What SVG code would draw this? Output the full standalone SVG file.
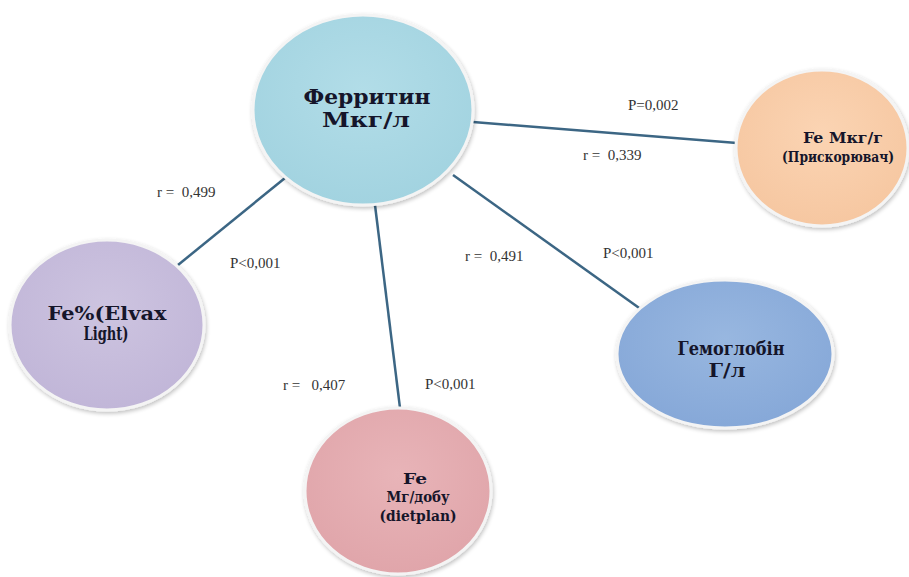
<svg xmlns="http://www.w3.org/2000/svg" width="909" height="577" viewBox="0 0 909 577">
<defs>
<filter id="sh" x="-10%" y="-10%" width="125%" height="125%">
<feGaussianBlur in="SourceAlpha" stdDeviation="2"/>
<feOffset dx="1" dy="2" result="b"/>
<feComponentTransfer><feFuncA type="linear" slope="0.25"/></feComponentTransfer>
<feMerge><feMergeNode/><feMergeNode in="SourceGraphic"/></feMerge>
</filter>
<radialGradient id="gBlue" cx="50%" cy="40%" r="60%"><stop offset="0" stop-color="#b2dde8"/><stop offset="1" stop-color="#a2d3e0"/></radialGradient>
<radialGradient id="gPeach" cx="50%" cy="40%" r="60%"><stop offset="0" stop-color="#fbd4b3"/><stop offset="1" stop-color="#f6c7a1"/></radialGradient>
<radialGradient id="gLav" cx="50%" cy="40%" r="60%"><stop offset="0" stop-color="#cdc4e0"/><stop offset="1" stop-color="#c1b6d8"/></radialGradient>
<radialGradient id="gHb" cx="50%" cy="40%" r="60%"><stop offset="0" stop-color="#98b7e0"/><stop offset="1" stop-color="#86a8d8"/></radialGradient>
<radialGradient id="gPink" cx="50%" cy="40%" r="60%"><stop offset="0" stop-color="#e8b4b8"/><stop offset="1" stop-color="#e0a5aa"/></radialGradient>
<style>
.node{stroke:#f4f4f4;stroke-width:3;filter:url(#sh)}
.nt{font-family:'DejaVu Serif',serif;font-weight:bold;fill:#15152a;text-anchor:middle}
.lbl{font-family:'Liberation Serif',serif;font-size:15px;fill:#333}
.conn{stroke:#3c6684;stroke-width:2.5;fill:none}
</style>
</defs>
<rect width="909" height="577" fill="#ffffff"/>
<g id="connectors">
<line class="conn" x1="473" y1="122" x2="737" y2="143"/>
<line class="conn" x1="285" y1="178" x2="178" y2="265"/>
<line class="conn" x1="375" y1="205" x2="400" y2="408"/>
<line class="conn" x1="453" y1="175" x2="642" y2="310"/>
</g>
<g id="labels">
<text class="lbl" x="628" y="110">P=0,002</text>
<text class="lbl" x="583" y="160" xml:space="preserve">r =  0,339</text>
<text class="lbl" x="157" y="197" xml:space="preserve">r =  0,499</text>
<text class="lbl" x="230" y="268">P&lt;0,001</text>
<text class="lbl" x="465" y="261" xml:space="preserve">r =  0,491</text>
<text class="lbl" x="603" y="258">P&lt;0,001</text>
<text class="lbl" x="283" y="390" xml:space="preserve">r =   0,407</text>
<text class="lbl" x="425" y="389">P&lt;0,001</text>
</g>
<g id="ferritin">
<ellipse class="node" cx="363" cy="110" rx="110" ry="95" fill="url(#gBlue)"/>
<text class="nt" x="367" y="104" font-size="21" textLength="127" lengthAdjust="spacingAndGlyphs">Ферритин</text>
<text class="nt" x="366" y="127" font-size="21" textLength="88" lengthAdjust="spacingAndGlyphs">Мкг/л</text>
</g>
<g id="fe-mkg">
<ellipse class="node" cx="822" cy="148" rx="86" ry="78" fill="url(#gPeach)"/>
<text class="nt" x="843" y="143" font-size="15" textLength="80" lengthAdjust="spacingAndGlyphs">Fe Мкг/г</text>
<text class="nt" x="838" y="162" font-size="14" textLength="112" lengthAdjust="spacingAndGlyphs">(Прискорювач)</text>
</g>
<g id="fe-elvax">
<ellipse class="node" cx="107" cy="325" rx="97" ry="85" fill="url(#gLav)"/>
<text class="nt" x="107" y="320" font-size="18" textLength="119" lengthAdjust="spacingAndGlyphs">Fe%(Elvax</text>
<text class="nt" x="106" y="340" font-size="18" textLength="45" lengthAdjust="spacingAndGlyphs">Light)</text>
</g>
<g id="hemoglobin">
<ellipse class="node" cx="725" cy="354" rx="108" ry="74" fill="url(#gHb)"/>
<text class="nt" x="731" y="355" font-size="18" textLength="107" lengthAdjust="spacingAndGlyphs">Гемоглобін</text>
<text class="nt" x="727" y="377" font-size="18" textLength="37" lengthAdjust="spacingAndGlyphs">Г/л</text>
</g>
<g id="fe-diet">
<ellipse class="node" cx="398" cy="491" rx="93" ry="83" fill="url(#gPink)"/>
<text class="nt" x="415" y="484" font-size="15" textLength="24" lengthAdjust="spacingAndGlyphs">Fe</text>
<text class="nt" x="418" y="502" font-size="15" textLength="63" lengthAdjust="spacingAndGlyphs">Мг/добу</text>
<text class="nt" x="418" y="521" font-size="15" textLength="77" lengthAdjust="spacingAndGlyphs">(dietplan)</text>
</g>
</svg>
